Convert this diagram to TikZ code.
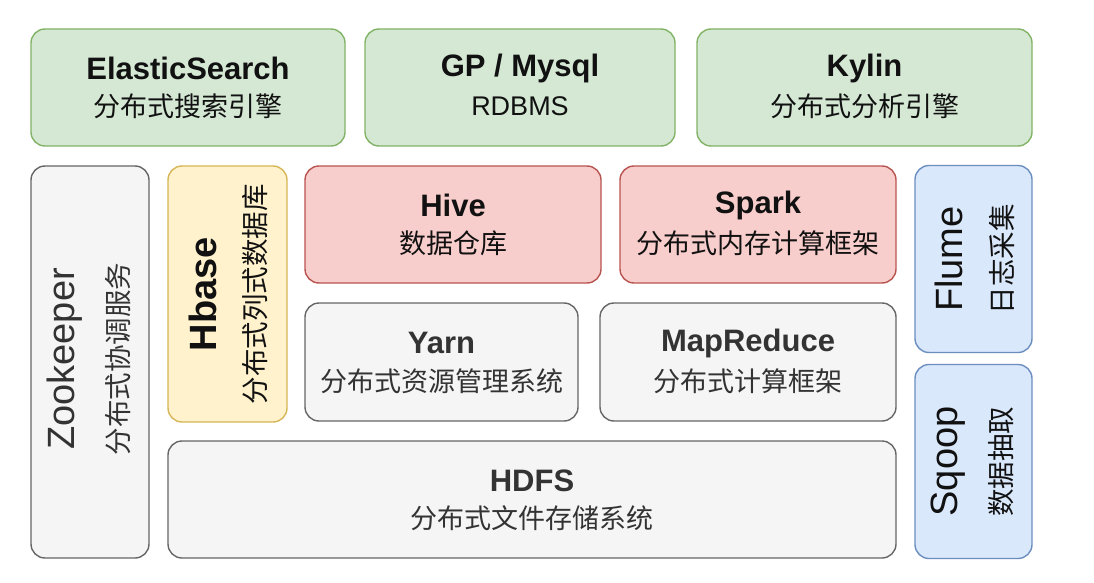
\documentclass[tikz,border=0pt]{standalone}
\usepackage{fontspec}
\setmainfont{Liberation Sans}
\newfontfamily\cjk{Noto Sans CJK SC}
\definecolor{gfill}{HTML}{D5E8D4}\definecolor{gline}{HTML}{82B366}
\definecolor{sfill}{HTML}{F5F5F5}\definecolor{sline}{HTML}{666666}
\definecolor{yfill}{HTML}{FFF2CC}\definecolor{yline}{HTML}{D6B656}
\definecolor{rfill}{HTML}{F8CECC}\definecolor{rline}{HTML}{B85450}
\definecolor{bfill}{HTML}{DAE8FC}\definecolor{bline}{HTML}{6C8EBF}
\definecolor{txt}{HTML}{111111}\definecolor{gtxt}{HTML}{333333}
\begin{document}
\begin{tikzpicture}[x=1pt,y=-1pt,
  box/.style={draw, line width=1.4pt, rounded corners=14pt, inner sep=0pt},
  green/.style={box, fill=gfill, draw=gline},
  grey/.style={box, fill=sfill, draw=sline},
  yellow/.style={box, fill=yfill, draw=yline},
  red/.style={box, fill=rfill, draw=rline},
  blue/.style={box, fill=bfill, draw=bline},
  ttl/.style={font=\fontsize{31}{33}\selectfont\bfseries, text=txt, inner sep=0pt},
  sub/.style={font=\fontsize{27}{29}\selectfont\cjk, text=txt, inner sep=0pt},
  rttl/.style={font=\fontsize{38}{40}\selectfont, text=txt, inner sep=0pt, rotate=90},
  rsub/.style={font=\fontsize{27.5}{29}\selectfont\cjk, text=txt, inner sep=0pt, rotate=90},
  gt/.style={text=gtxt}
]
\useasboundingbox (0,0) rectangle (1094,583);
\fill[white] (0,0) rectangle (1094,583);

% top row
\node[green, minimum width=314pt, minimum height=117pt] (es) at (188,87.5) {};
\node[ttl] (es-t) at ([yshift=19pt]es.center) {ElasticSearch};
\node[sub] (es-s) at ([yshift=-19pt]es.center) {分布式搜索引擎};

\node[green, minimum width=310pt, minimum height=117pt] (gp) at (520,87.5) {};
\node[ttl] (gp-t) at ([yshift=19pt]gp.center) {GP / Mysql};
\node[font=\fontsize{27}{29}\selectfont, text=txt, inner sep=0pt] (gp-s) at ([yshift=-19pt]gp.center) {RDBMS};

\node[green, minimum width=335pt, minimum height=117pt] (ky) at (864.5,87.5) {};
\node[ttl] (ky-t) at ([yshift=19pt]ky.center) {Kylin};
\node[sub] (ky-s) at ([yshift=-19pt]ky.center) {分布式分析引擎};

% left columns
\node[grey, minimum width=118pt, minimum height=392pt] (zk) at (90,362) {};
\node[rttl, gt] (zk-t) at ([xshift=-25pt,yshift=3pt]zk.center) {Zookeeper};
\node[rsub, gt] (zk-s) at ([xshift=28pt,yshift=3pt]zk.center) {分布式协调服务};

\node[yellow, minimum width=119pt, minimum height=256pt] (hb) at (227.5,294) {};
\node[rttl, font=\fontsize{38}{40}\selectfont\bfseries] (hb-t) at ([xshift=-25pt]hb.center) {Hbase};
\node[rsub] (hb-s) at ([xshift=28pt]hb.center) {分布式列式数据库};

% middle
\node[red, minimum width=296pt, minimum height=117pt] (hv) at (453,224.5) {};
\node[ttl] (hv-t) at ([yshift=19pt]hv.center) {Hive};
\node[sub] (hv-s) at ([yshift=-19pt]hv.center) {数据仓库};

\node[red, minimum width=276pt, minimum height=117pt] (sp) at (758,224.5) {};
\node[ttl] (sp-t) at ([yshift=19pt]sp.center) {Spark};
\node[sub] (sp-s) at ([yshift=-19pt]sp.center) {分布式内存计算框架};

\node[grey, minimum width=273pt, minimum height=118pt] (yn) at (441.5,362) {};
\node[ttl, gt] (yn-t) at ([yshift=19pt]yn.center) {Yarn};
\node[sub, gt] (yn-s) at ([yshift=-19pt]yn.center) {分布式资源管理系统};

\node[grey, minimum width=296pt, minimum height=118pt] (mr) at (748,362) {};
\node[ttl, gt] (mr-t) at ([yshift=19pt]mr.center) {MapReduce};
\node[sub, gt] (mr-s) at ([yshift=-19pt]mr.center) {分布式计算框架};

\node[grey, minimum width=728pt, minimum height=117pt] (hd) at (532,499.5) {};
\node[ttl, gt] (hd-t) at ([yshift=19pt]hd.center) {HDFS};
\node[sub, gt] (hd-s) at ([yshift=-19pt]hd.center) {分布式文件存储系统};

% right column
\node[blue, minimum width=117pt, minimum height=187pt] (fl) at (973.5,259) {};
\node[rttl] (fl-t) at ([xshift=-25pt]fl.center) {Flume};
\node[rsub] (fl-s) at ([xshift=28pt]fl.center) {日志采集};

\node[blue, minimum width=117pt, minimum height=194pt] (sq) at (973.5,461.5) {};
\node[rttl] (sq-t) at ([xshift=-25pt]sq.center) {Sqoop};
\node[rsub] (sq-s) at ([xshift=28pt]sq.center) {数据抽取};
\end{tikzpicture}
\end{document}
